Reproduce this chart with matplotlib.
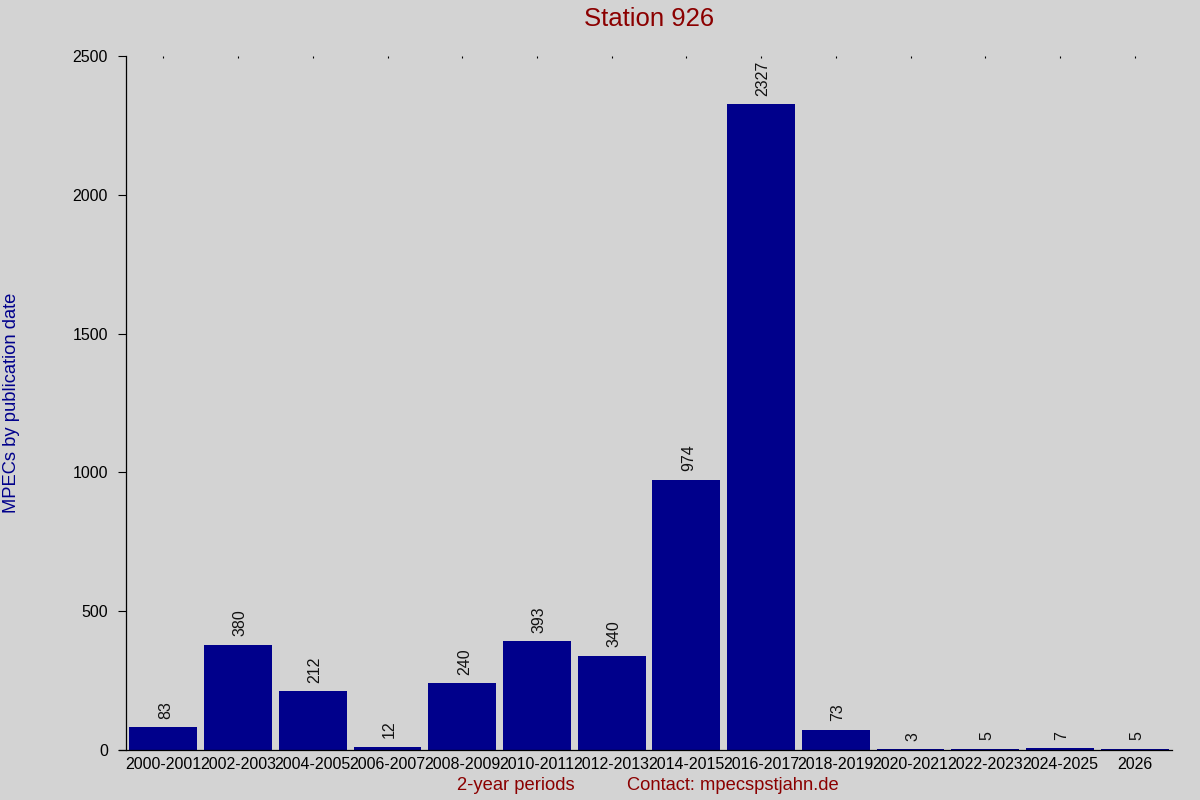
import matplotlib
matplotlib.use("Agg")
import matplotlib.pyplot as plt

categories = ["2000-2001", "2002-2003", "2004-2005", "2006-2007", "2008-2009",
              "2010-2011", "2012-2013", "2014-2015", "2016-2017", "2018-2019",
              "2020-2021", "2022-2023", "2024-2025", "2026"]
values = [83, 380, 212, 12, 240, 393, 340, 974, 2327, 73, 3, 5, 7, 5]
yticks = [0, 500, 1000, 1500, 2000, 2500]

plt.rcParams['font.family'] = ['Liberation Sans', 'DejaVu Sans']
bg = '#d3d3d3'
fig = plt.figure(figsize=(12, 8), dpi=100, facecolor=bg)
ax = fig.add_axes([126/1200, 1-750/800, (1172-126)/1200, (750-56)/800])
ax.set_facecolor(bg)

x = list(range(len(categories)))
bars = ax.bar(x, values, width=0.91, color='#00008b')
for xi, v in zip(x, values):
    ax.annotate(str(v), (xi, v), xytext=(1.5, 6), textcoords='offset points',
                rotation=90, ha='center', va='bottom', fontsize=11.5, color='#111111')

ax.set_xlim(-0.5, len(categories) - 0.5)
ax.set_ylim(0, 2500)
ax.set_yticks(yticks)
ax.set_yticklabels([str(t) for t in yticks], fontsize=11.5)
ax.set_xticks(x)
ax.set_xticklabels(categories, fontsize=11.5)
ax.tick_params(axis='y', length=6, width=0.8, pad=7, color='black')
ax.tick_params(axis='x', bottom=False, top=True, labelbottom=True, labeltop=False,
               direction='in', length=1.2, width=0.8, pad=5)
for s in ['top', 'right']:
    ax.spines[s].set_visible(False)
for s in ['left', 'bottom']:
    ax.spines[s].set_linewidth(0.9)
ax.spines['bottom'].set_bounds(-0.6, len(categories) - 0.5)

fig.text(649/1200, 1-19/800, "Station 926", ha='center', va='center',
         fontsize=18.5, color='#8b0000')
fig.text(12/1200, 1-403/800, "MPECs by publication date", rotation=90,
         ha='center', va='center', fontsize=13.2, color='#00008b')
fig.text(516/1200, 1-786/800, "2-year periods", ha='center', va='center',
         fontsize=13.2, color='#8b0000')
fig.text(733/1200, 1-786/800, "Contact: mpecspstjahn.de", ha='center', va='center',
         fontsize=13.2, color='#8b0000')

fig.savefig("out.png", dpi=100, facecolor=bg)
